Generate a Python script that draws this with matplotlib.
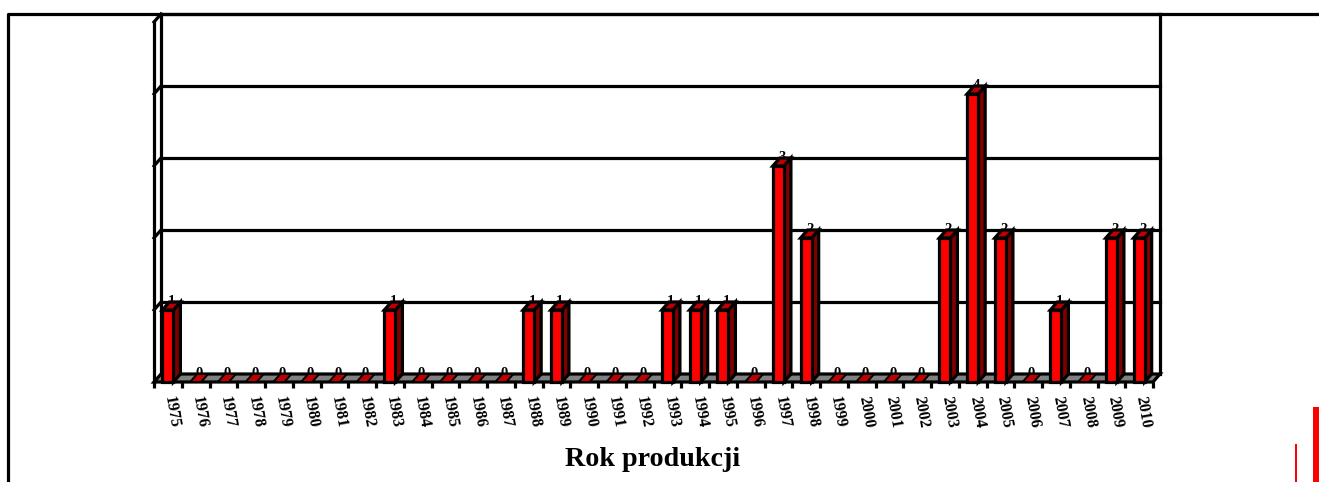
import numpy as np
import matplotlib
matplotlib.use("Agg")
import matplotlib.pyplot as plt
from matplotlib.lines import Line2D
from matplotlib.patches import Polygon, Rectangle
from matplotlib.transforms import ScaledTranslation

plt.rcParams["font.family"] = ["Liberation Serif", "DejaVu Serif"]

YEARS = list(range(1975, 2011))
COUNTS = [1, 0, 0, 0, 0, 0, 0, 0, 1, 0, 0, 0, 0, 1, 1, 0, 0, 0, 1, 1, 1, 0, 3, 2,
          0, 0, 0, 0, 2, 4, 2, 0, 1, 0, 2, 2]
X_LABEL = "Rok produkcji"
Y_MAX = 5

W, H = 1319, 482
LEFT, RIGHT, BOTTOM, TOP = 154, 1153, 382, 22  # front plane, pixels from top left
DEPTH_X = 7 / ((RIGHT - LEFT) / len(YEARS))
DEPTH_Y = 8 / ((BOTTOM - TOP) / Y_MAX)
BAR_WIDTH = 0.4
LW = 2.3

fig = plt.figure(figsize=(W / 100, H / 100), dpi=100)
ax = fig.add_axes([LEFT / W, 1 - BOTTOM / H, (RIGHT - LEFT) / W, (BOTTOM - TOP) / H])
ax.set_xlim(0, len(YEARS))
ax.set_ylim(0, Y_MAX)
ax.patch.set_visible(False)
for s in ax.spines.values():
    s.set_visible(False)


def line(xs, ys, z=1, lw=LW):
    ax.plot(xs, ys, color="black", lw=lw, zorder=z, clip_on=False, solid_capstyle="projecting")


def poly(points, color, z, lw=LW):
    ax.add_patch(Polygon(points, closed=True, facecolor=color, edgecolor="black", lw=lw,
                         zorder=z, clip_on=False, joinstyle="miter"))


n = len(YEARS)

# floor
poly([(0, 0), (n, 0), (n + DEPTH_X, DEPTH_Y), (DEPTH_X, DEPTH_Y)], "#808080", 1)

# walls, gridlines
for v in range(1, Y_MAX + 1):
    line([DEPTH_X, n + DEPTH_X], [v + DEPTH_Y, v + DEPTH_Y], 1)
    line([0, DEPTH_X], [v, v + DEPTH_Y], 1)
line([0, 0], [0, Y_MAX], 1)
line([DEPTH_X, DEPTH_X], [DEPTH_Y, Y_MAX + DEPTH_Y], 1)
line([n + DEPTH_X, n + DEPTH_X], [DEPTH_Y, Y_MAX + DEPTH_Y], 1)

# bars, value labels sit behind them
for i, (year, v) in enumerate(zip(YEARS, COUNTS)):
    x0 = i + 0.5 - BAR_WIDTH / 2
    x1 = x0 + BAR_WIDTH
    ax.annotate(str(v), (i + 0.5 + DEPTH_X / 2, v), xytext=(0, 5.8), textcoords="offset points",
                ha="center", va="center", fontsize=10.5, fontweight="bold", zorder=2,
                annotation_clip=False)
    top_lw = LW if v > 0 else 1.4
    if v > 0:
        poly([(x1, 0), (x1 + DEPTH_X, DEPTH_Y), (x1 + DEPTH_X, v + DEPTH_Y), (x1, v)], "#800000", 3)
    poly([(x0, v), (x1, v), (x1 + DEPTH_X, v + DEPTH_Y), (x0 + DEPTH_X, v + DEPTH_Y)], "#C00000", 3, top_lw)
    if v > 0:
        poly([(x0, 0), (x1, 0), (x1, v), (x0, v)], "#FF0000", 4)

# axes ticks and labels
ax.set_yticks([])
ax.set_xticks(np.arange(n + 1))
ax.set_xticklabels([])
ax.set_xticks(np.arange(n) + 0.5, minor=True)
ax.set_xticklabels(YEARS, minor=True, rotation=-80, ha="center", va="top",
                   fontsize=11.5, fontweight="bold")
ax.tick_params(axis="x", which="major", length=4.5, width=LW, color="black")
ax.tick_params(axis="x", which="minor", length=0, pad=9)
shift = ScaledTranslation(4 / 100, 0, fig.dpi_scale_trans)
for label in ax.get_xticklabels(minor=True):
    label.set_transform(label.get_transform() + shift)

fig.text(653 / W, 1 - 459.5 / H, X_LABEL, ha="center", va="center", fontsize=20.2, fontweight="bold")

# outer frame, cut off by the picture edge
fig.add_artist(Line2D([8 / W, 8 / W, 1], [0, 1 - 13.5 / H, 1 - 13.5 / H], color="black", lw=LW))

# red marks in the bottom right corner
fig.add_artist(Rectangle((1313 / W, 0), 6 / W, 75 / H, transform=fig.transFigure, color="#FF0000", lw=0))
fig.add_artist(Rectangle((1294.5 / W, 0), 2.5 / W, 38 / H, transform=fig.transFigure, color="#FF0000", lw=0))

fig.savefig("out.png", dpi=100)
